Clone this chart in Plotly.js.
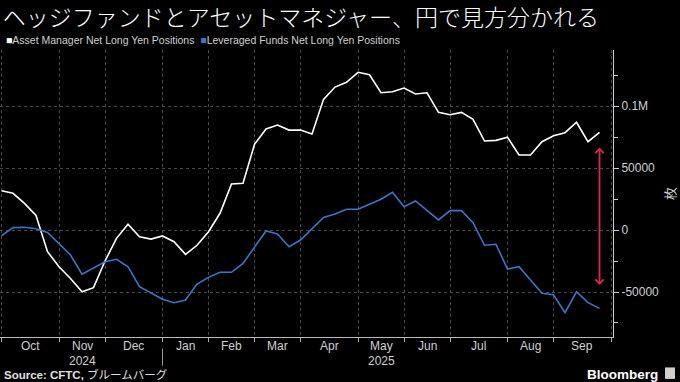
<!DOCTYPE html>
<html>
<head>
<meta charset="utf-8">
<script src="https://cdn.plot.ly/plotly-3.0.1.min.js"></script>
<style>
html,body{margin:0;padding:0;background:#000;}
#chart{width:680px;height:382px;}
</style>
</head>
<body>
<div id="chart"></div>
<script>
// Weekly CFTC report dates (Tuesdays)
const dates = [
  '2024-10-01','2024-10-08','2024-10-15','2024-10-22','2024-10-29',
  '2024-11-05','2024-11-12','2024-11-19','2024-11-26',
  '2024-12-03','2024-12-10','2024-12-17','2024-12-24','2024-12-31',
  '2025-01-07','2025-01-14','2025-01-21','2025-01-28',
  '2025-02-04','2025-02-11','2025-02-18','2025-02-25',
  '2025-03-04','2025-03-11','2025-03-18','2025-03-25',
  '2025-04-01','2025-04-08','2025-04-15','2025-04-22','2025-04-29',
  '2025-05-06','2025-05-13','2025-05-20','2025-05-27',
  '2025-06-03','2025-06-10','2025-06-17','2025-06-24',
  '2025-07-01','2025-07-08','2025-07-15','2025-07-22','2025-07-29',
  '2025-08-05','2025-08-12','2025-08-19','2025-08-26',
  '2025-09-02','2025-09-09','2025-09-16','2025-09-23','2025-09-30'
];

// Asset Manager Net Long Yen Positions (contracts)
const assetManager = [
  31700, 29600, 21500, 11700, -17500,
  -29600, -39100, -49800, -46500,
  -25000, -6700, 4600, -5400, -7300,
  -4800, -9400, -19600, -12300,
  -1400, 13500, 37100, 37700,
  69100, 81500, 84700, 80600,
  80600, 77400, 105400, 115300, 119100,
  127200, 125200, 110700, 111500,
  114500, 109700, 110700, 94900,
  93000, 94900, 89300, 71800, 72300,
  74800, 60500, 60500, 71200,
  76000, 78500, 86900, 71200, 78800
];

// Leveraged Funds Net Long Yen Positions (contracts)
const leveragedFunds = [
  -4600, 1900, 2200, 1000, -1900,
  -10700, -20200, -35700, -30900,
  -25600, -23600, -29600, -45700, -51000,
  -55900, -58600, -56500, -43600,
  -38200, -34100, -34100, -26900,
  -13500, -800, -3200, -13500,
  -8100, 1400, 10200, 12900, 16700,
  16700, 21000, 24800, 30400,
  18800, 23400, 15600, 8100,
  15600, 15600, 5900, -12300, -11500,
  -31500, -29600, -40300, -51000,
  -52200, -66700, -49800, -58600, -63200
];

const seriesNames = ['Asset Manager Net Long Yen Positions', 'Leveraged Funds Net Long Yen Positions'];

// first report of each month (tick / gridline positions) and month labels
const monthStarts = [
  '2024-10-01','2024-11-05','2024-12-03','2025-01-07','2025-02-04','2025-03-04',
  '2025-04-01','2025-05-06','2025-06-03','2025-07-01','2025-08-05','2025-09-02','2025-10-07'
];
const monthLabels = ['Oct','Nov','Dec','Jan','Feb','Mar','Apr','May','Jun','Jul','Aug','Sep'];
const yearLabels = ['', '2024', '', '', '', '', '', '2025', '', '', '', ''];

const yTickVals = [-50000, 0, 50000, 100000];
const yTickText = ['-50000', '0', '50000', '0.1M'];

const titleText = 'ヘッジファンドとアセットマネジャー、円で見方分かれる';
const sourceText = '<b>Source: CFTC,</b> ブルームバーグ';

// ---- derived ----
const monthMids = [];
for (let i = 0; i < monthLabels.length; i++) {
  const a = Date.parse(monthStarts[i] + 'T00:00:00Z');
  const b = Date.parse(monthStarts[i + 1] + 'T00:00:00Z');
  monthMids.push(new Date((a + b) / 2).toISOString().slice(0, 19).replace('T', ' '));
}

const WHITE = '#ffffff';
const BLUE = '#3b76c8';
const RED = '#d8284f';
const TXT = '#d0d0d0';
const GRID = '#4a4a4a';
const FONT = 'Liberation Sans, Arial, sans-serif';
const XRANGE = ['2024-09-30 02:00', '2025-10-08 05:00'];

const traces = [
  {x: dates, y: assetManager, name: seriesNames[0], type: 'scatter', mode: 'lines',
   line: {color: WHITE, width: 1.6}, hoverinfo: 'skip'},
  {x: dates, y: leveragedFunds, name: seriesNames[1], type: 'scatter', mode: 'lines',
   line: {color: BLUE, width: 1.6}, hoverinfo: 'skip'}
];

const annotations = [];
monthLabels.forEach((m, i) => {
  annotations.push({xref: 'x', yref: 'paper', x: monthMids[i], y: -0.03, xanchor: 'center', yanchor: 'middle',
    showarrow: false, text: m, font: {family: FONT, size: 12, color: TXT}});
  if (yearLabels[i]) {
    annotations.push({xref: 'x', yref: 'paper', x: monthMids[i], y: -0.082, xanchor: 'center', yanchor: 'middle',
      showarrow: false, text: yearLabels[i], font: {family: FONT, size: 12, color: TXT}});
  }
});
annotations.push(
  {xref: 'paper', yref: 'paper', x: 0.006, y: 1.035, xanchor: 'left', yanchor: 'middle', showarrow: false,
   text: '<span style="color:' + WHITE + '">■</span>' + seriesNames[0] +
         '  <span style="color:' + BLUE + '">■</span>' + seriesNames[1],
   font: {family: FONT, size: 10.5, color: TXT}},
  {xref: 'paper', yref: 'paper', x: 0.003, y: -0.129, xanchor: 'left', yanchor: 'middle', showarrow: false,
   text: sourceText, font: {family: 'Liberation Sans, Noto Sans CJK JP, sans-serif', size: 11.5, color: '#e0e0e0'}},
  {xref: 'paper', yref: 'paper', x: 1.077, y: -0.129, xanchor: 'right', yanchor: 'middle', showarrow: false,
   text: '<b>Bloomberg</b>', font: {family: FONT, size: 13.5, color: '#ffffff'}},
  {xref: 'x', yref: 'y', axref: 'x', ayref: 'y', x: '2025-09-30', y: -44300, ax: '2025-09-30', ay: 67700,
   text: '', showarrow: true, arrowside: 'end+start', arrowhead: 4, startarrowhead: 4,
   arrowsize: 0.9, startarrowsize: 0.9, arrowwidth: 1.8, arrowcolor: RED}
);

const layout = {
  width: 680, height: 382,
  paper_bgcolor: '#000', plot_bgcolor: '#000',
  margin: {l: 0, r: 67, t: 50, b: 45},
  showlegend: false,
  title: {
    text: titleText, x: 0.004, xanchor: 'left', xref: 'container',
    y: 0.952, yanchor: 'middle', yref: 'container',
    font: {family: 'Noto Sans CJK JP, sans-serif', size: 23, color: '#ffffff', weight: 300}
  },
  xaxis: {
    type: 'date', range: XRANGE, tickmode: 'array', tickvals: monthStarts, showticklabels: false,
    ticks: 'outside', ticklen: 4, tickcolor: '#aaaaaa', tickwidth: 1,
    showgrid: true, gridcolor: GRID, griddash: 'dot', gridwidth: 1,
    showline: true, linecolor: '#bbbbbb', linewidth: 1, zeroline: false
  },
  yaxis: {
    side: 'right', range: [-86300, 145200],
    tickmode: 'array', tickvals: yTickVals, ticktext: yTickText,
    ticks: 'outside', ticklen: 5, tickcolor: '#cccccc',
    showline: true, linecolor: '#cccccc', linewidth: 1,
    showgrid: true, gridcolor: GRID, griddash: 'dot', gridwidth: 1,
    zeroline: false,
    tickfont: {family: FONT, size: 12, color: TXT},
    minor: {tickmode: 'linear', tick0: 0, dtick: 25000, ticks: 'outside', ticklen: 4,
            tickcolor: '#cccccc', showgrid: false},
    title: {text: '枚', standoff: 7, font: {family: 'Noto Sans CJK JP, sans-serif', size: 13, color: TXT}}
  },
  shapes: [
    {type: 'line', xref: 'x', yref: 'paper', x0: '2025-01-07', x1: '2025-01-07', y0: -0.04, y1: -0.1,
     line: {color: '#999999', width: 1}},
    {type: 'rect', xref: 'paper', yref: 'paper', x0: 1.0848, x1: 1.1011, y0: -0.146, y1: -0.106,
     fillcolor: '#cfcfcf', line: {width: 0}}
  ],
  annotations: annotations
};

Plotly.newPlot('chart', traces, layout, {staticPlot: true, displayModeBar: false});
</script>
</body>
</html>
